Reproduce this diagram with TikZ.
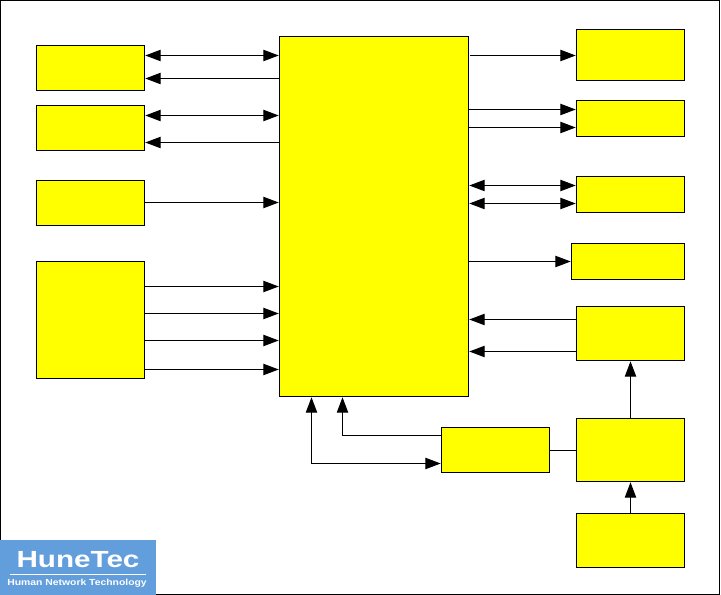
\documentclass[tikz,border=0pt]{standalone}
\usepackage{fontspec}
\setmainfont{Liberation Sans}
\usetikzlibrary{arrows.meta}
\definecolor{boxyellow}{RGB}{255,255,0}
\definecolor{logoblue}{RGB}{98,157,220}
\begin{document}
\begin{tikzpicture}[
  x=0.75pt,y=-0.75pt,
  block/.style={draw=black,fill=boxyellow,line width=0.75pt,inner sep=0pt,outer sep=0pt,anchor=north west},
  line/.style={draw=black,line width=0.75pt},
  arr/.style={line,-{Triangle[length=11.5pt,width=8.5pt]},shorten >=0.6pt},
  both/.style={line,{Triangle[length=11.5pt,width=8.5pt]}-{Triangle[length=11.5pt,width=8.5pt]},shorten >=0.6pt,shorten <=0.6pt},
  logotext/.style={text=white,inner sep=0pt,transform shape},
]
\useasboundingbox (0,0) rectangle (721,595);
\draw[line] (0.5,0.5) rectangle (719.5,594.5);
% left column
\node[block,minimum width=81pt,minimum height=33.75pt] (lefta) at (36.5,45.5) {};
\node[block,minimum width=81pt,minimum height=33.75pt] (leftb) at (36.5,105.5) {};
\node[block,minimum width=81pt,minimum height=33.75pt] (leftc) at (36.5,180.5) {};
\node[block,minimum width=81pt,minimum height=87.75pt] (leftd) at (36.5,261.5) {};
% centre
\node[block,minimum width=141.75pt,minimum height=270pt] (main) at (279.5,36.5) {};
\node[block,minimum width=81pt,minimum height=33.75pt] (bottom) at (441.5,427.5) {};
% right column
\node[block,minimum width=81pt,minimum height=38.25pt] (righta) at (576.5,29.5) {};
\node[block,minimum width=81pt,minimum height=27pt] (rightb) at (576.5,100.5) {};
\node[block,minimum width=81pt,minimum height=27pt] (rightc) at (576.5,176.5) {};
\node[block,minimum width=84.75pt,minimum height=27pt] (rightd) at (571.5,243.5) {};
\node[block,minimum width=81pt,minimum height=40.5pt] (righte) at (576.5,306.5) {};
\node[block,minimum width=81pt,minimum height=47.25pt] (rightf) at (576.5,418.5) {};
\node[block,minimum width=81pt,minimum height=40.5pt] (rightg) at (576.5,513.5) {};
% left connectors
\draw[both] (lefta.east |- 0,55.5) -- (main.west |- 0,55.5);
\draw[arr] (main.west |- 0,78.5) -- (lefta.east |- 0,78.5);
\draw[both] (leftb.east |- 0,115.5) -- (main.west |- 0,115.5);
\draw[arr] (main.west |- 0,142.5) -- (leftb.east |- 0,142.5);
\draw[arr] (leftc.east |- 0,202.5) -- (main.west |- 0,202.5);
\foreach \y in {286.5,313.5,340.5,369.5}{\draw[arr] (leftd.east |- 0,\y) -- (main.west |- 0,\y);}
% right connectors
\draw[arr] ([xshift=1.2pt]main.east |- 0,55.5) -- (righta.west |- 0,55.5);
\foreach \y in {109.5,127.5}{\draw[arr] (main.east |- 0,\y) -- (rightb.west |- 0,\y);}
\foreach \y in {185.5,203.5}{\draw[both] (main.east |- 0,\y) -- (rightc.west |- 0,\y);}
\draw[arr] (main.east |- 0,261.5) -- (rightd.west |- 0,261.5);
\foreach \y in {319.5,351.5}{\draw[arr] (righte.west |- 0,\y) -- (main.east |- 0,\y);}
\draw[arr] (rightf.north -| 630.5,0) -- (righte.south -| 630.5,0);
\draw[arr] (rightg.north -| 630.5,0) -- (rightf.south -| 630.5,0);
% bottom connectors
\draw[line] (bottom.east |- 0,450.5) -- (rightf.west |- 0,450.5);
\draw[arr] (bottom.west |- 0,435.5) -| (main.south -| 342.5,0);
\draw[both] (main.south -| 311.5,0) |- (bottom.west |- 0,463.5);
% logo
\fill[logoblue] (0,540) rectangle (156,595);
\node[logotext,xscale=1.27,font=\bfseries\fontsize{17.5pt}{18pt}\selectfont] (logoname) at (78,560) {HuneTec};
\draw[white,line width=0.6pt] (10,574.5) -- (146,574.5);
\node[logotext,xscale=1.18,font=\bfseries\fontsize{6.6pt}{7pt}\selectfont] (logosub) at (77,583.5) {Human Network Technology};
\end{tikzpicture}
\end{document}
